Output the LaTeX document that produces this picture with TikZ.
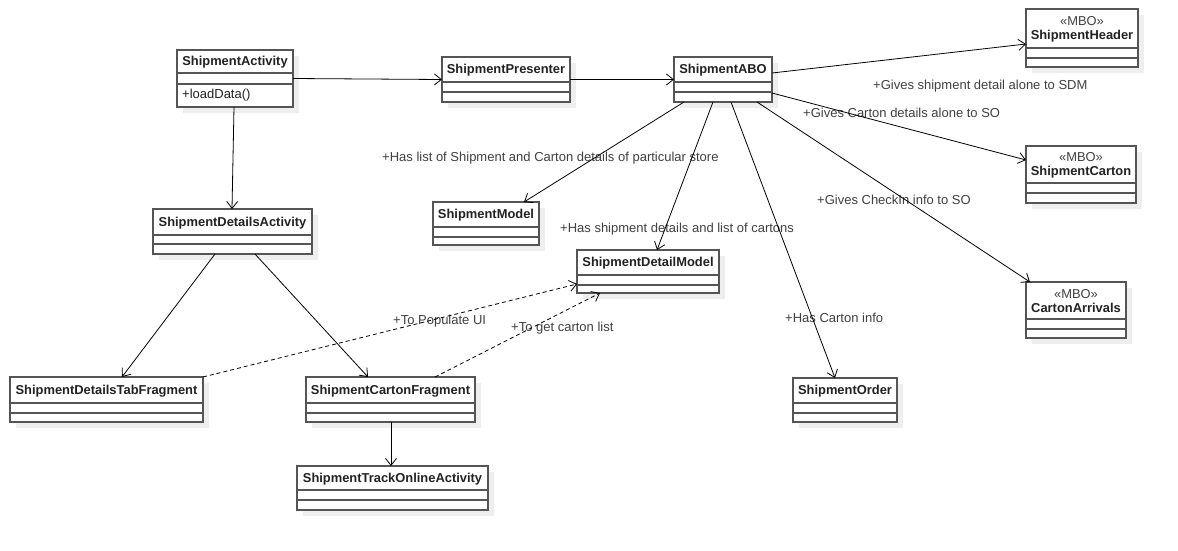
\documentclass[tikz,border=0pt]{standalone}
\usepackage{fontspec}
\setmainfont{Liberation Sans}
\usetikzlibrary{arrows.meta,calc}

\definecolor{boxline}{HTML}{555555}
\definecolor{shadowgray}{HTML}{EEEEEE}
\definecolor{labeltext}{HTML}{404040}
\definecolor{nametext}{HTML}{222222}

\tikzset{
  classframe/.style={draw=boxline, line width=1.3pt, fill=white, rectangle,
    inner sep=0pt, outer sep=0pt, anchor=north west},
  divider/.style={draw=boxline, line width=1.3pt},
  classname/.style={inner sep=0pt, align=center, text=nametext,
    font=\bfseries\fontsize{12.9}{14}\selectfont},
  member/.style={inner sep=0pt, anchor=west, text=nametext,
    font=\fontsize{13}{14}\selectfont},
  assoc/.style={-{Straight Barb[length=7pt,width=11pt]}, line width=0.8pt},
  depend/.style={assoc, dash pattern=on 4pt off 3pt},
  note/.style={anchor=west, inner sep=0pt, text=labeltext,
    font=\fontsize{13}{14}\selectfont},
}

% #1 name, #2 x, #3 y, #4 width, #5 height, #6 first divider, #7 second divider, #8 title
\newcommand{\umlclass}[8]{%
  \fill[shadowgray] (#2+6,#3+6) rectangle ++(#4,#5);
  \node[classframe, minimum width=#4pt, minimum height=#5pt] (#1) at (#2,#3) {};
  \draw[divider] ($(#1.north west)+(0,#6)$) -- ++(#4,0);
  \draw[divider] ($(#1.north west)+(0,#7)$) -- ++(#4,0);
  \node[classname] (#1-title) at ($(#1.north west)+(#4/2,#6/2+1)$) {#8};
}
% stereotype line above a class name
\newcommand{\mbo}{{\mdseries\color{labeltext}«MBO»}}

\begin{document}
\begin{tikzpicture}[x=1pt, y=-1pt]
\useasboundingbox[fill=white] (0,0) rectangle (1178,550);

% classes
\umlclass{SA}{177}{50}{116}{57}{23}{34}{ShipmentActivity}
\node[member] (SA-op) at ($(SA.north west)+(5,45.5)$) {+loadData()};
\umlclass{SP}{442}{57}{128}{45}{25}{35}{ShipmentPresenter}
\umlclass{ABO}{674}{57}{98}{45}{25}{35}{ShipmentABO}
\umlclass{SH}{1026}{9}{112}{58}{39}{49}{\mbo\\ShipmentHeader}
\umlclass{SC}{1026}{146}{110}{57}{37}{47}{\mbo\\ShipmentCarton}
\umlclass{CA}{1026}{282}{100}{56}{37}{47}{\mbo\\CartonArrivals}
\umlclass{SDA}{153}{209}{159}{45}{26}{35}{ShipmentDetailsActivity}
\umlclass{SM}{433}{202}{106}{43}{25}{35}{ShipmentModel}
\umlclass{SDM}{577}{250}{142}{43}{25}{35}{ShipmentDetailModel}
\umlclass{SDTF}{10}{377}{193}{45}{26}{36}{ShipmentDetailsTabFragment}
\umlclass{SCF}{306}{377}{169}{45}{26}{36}{ShipmentCartonFragment}
\umlclass{STOA}{297}{466}{191}{44}{24}{34}{ShipmentTrackOnlineActivity}
\umlclass{SO}{793}{378}{104}{44}{25}{35}{ShipmentOrder}

% association labels
\node[note] (l1) at (873,86) {+Gives shipment detail alone to SDM};
\node[note] (l2) at (803,113) {+Gives Carton details alone to SO};
\node[note] (l3) at (382,158) {+Has list of Shipment and Carton details of particular store};
\node[note] (l4) at (817,200) {+Gives CheckIn info to SO};
\node[note] (l5) at (560,229) {+Has shipment details and list of cartons};
\node[note] (l6) at (393,321) {+To Populate UI};
\node[note] (l7) at (511,328) {+To get carton list};
\node[note] (l8) at (785,318) {+Has Carton info};

% associations
\draw[assoc] (SA.east) -- (SP.west);
\draw[assoc] (SP.east) -- (ABO.west);
\draw[assoc] ($(ABO.north east)+(0,16)$) -- ($(SH.north west)+(0,35)$);
\draw[assoc] ($(ABO.north east)+(0,36)$) -- ($(SC.north west)+(0,14)$);
\draw[assoc] ($(ABO.south east)+(-15,0)$) -- ($(CA.north west)+(4,0)$);
\draw[assoc] ($(ABO.south west)+(57,0)$) -- ($(SO.north west)+(42,0)$);
\draw[assoc] ($(ABO.south west)+(39,0)$) -- ($(SDM.north west)+(80,0)$);
\draw[assoc] ($(ABO.south west)+(10,0)$) -- ($(SM.north east)+(-15,0)$);
\draw[assoc] ($(SA.south west)+(57,0)$) -- ($(SDA.north west)+(79,0)$);
\draw[assoc] ($(SDA.south west)+(62,0)$) -- ($(SDTF.north west)+(112,0)$);
\draw[assoc] ($(SDA.south west)+(102,0)$) -- ($(SCF.north west)+(62,0)$);
\draw[assoc] ($(SCF.south west)+(85,0)$) -- ($(STOA.north west)+(94,0)$);

% dependencies
\draw[depend] (SDTF.north east) -- ($(SDM.north west)+(0,34)$);
\draw[depend] ($(SCF.north west)+(129,0)$) -- ($(SDM.south west)+(23,0)$);
\end{tikzpicture}
\end{document}
